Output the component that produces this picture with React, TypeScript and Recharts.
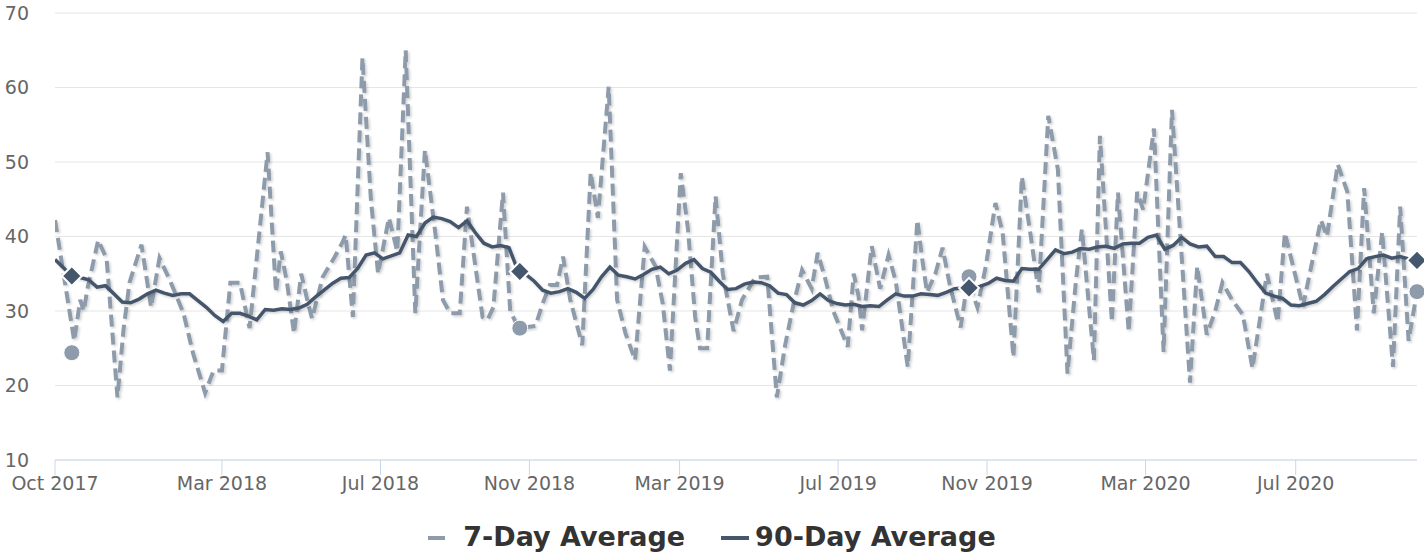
import React from 'react';
import {
  LineChart,
  Line,
  XAxis,
  YAxis,
  CartesianGrid,
  Legend,
  ReferenceDot,
} from 'recharts';

// weekly 90-day average, one value per week starting Oct 2017
const ninetyDay = [
  36.9, 35.8, 34.7, 34.5, 34.2, 33.2, 33.4, 32.3, 31.2, 31.1,
  31.6, 32.3, 32.8, 32.4, 32.1, 32.3, 32.3, 31.4, 30.5, 29.4,
  28.6, 29.7, 29.7, 29.3, 28.8, 30.2, 30.1, 30.3, 30.2, 30.4,
  30.9, 31.9, 32.8, 33.7, 34.4, 34.5, 35.7, 37.5, 37.8, 37.0,
  37.4, 37.8, 40.2, 40.0, 41.8, 42.6, 42.4, 42.0, 41.2, 42.1,
  40.5, 39.1, 38.6, 38.8, 38.5, 35.6, 34.9, 34.0, 32.8, 32.4,
  32.6, 33.0, 32.5, 31.7, 32.9, 34.6, 35.9, 34.8, 34.6, 34.3,
  34.9, 35.6, 35.9, 35.0, 35.5, 36.4, 36.9, 35.7, 35.2, 34.0,
  32.9, 33.0, 33.6, 33.9, 33.8, 33.4, 32.4, 32.2, 31.1, 30.8,
  31.4, 32.3, 31.4, 31.0, 30.8, 30.9, 30.6, 30.7, 30.6, 31.5,
  32.3, 32.0, 32.0, 32.3, 32.2, 32.1, 32.5, 33.0, 33.1, 33.1,
  33.3, 33.7, 34.4, 34.1, 34.0, 35.7, 35.6, 35.6, 36.9, 38.2,
  37.7, 37.9, 38.4, 38.3, 38.6, 38.7, 38.4, 39.0, 39.1, 39.1,
  39.9, 40.2, 38.3, 38.8, 39.9, 39.0, 38.6, 38.7, 37.3, 37.3,
  36.5, 36.5, 35.3, 33.8, 32.4, 32.0, 31.7, 30.8, 30.7, 31.0,
  31.3, 32.2, 33.3, 34.3, 35.3, 35.7, 37.0, 37.3, 37.5, 37.1,
  37.3, 37.0, 36.8,
];

// 7-day average turning points (day offset from start, value)
const sevenDayDays = [
  0, 16, 21, 24, 27, 36, 43, 52, 57, 62, 72, 80, 87, 96, 107, 115, 125, 132, 139, 146,
  154, 162, 177, 184, 188, 193, 199, 205, 210, 214, 223, 232, 239, 242, 248, 256, 263, 269, 278, 285,
  292, 300, 308, 317, 323, 329, 337, 343, 356, 360, 365, 373, 379, 386, 400, 406, 412, 418, 423, 429,
  439, 446, 452, 461, 468, 475, 483, 491, 500, 506, 512, 521, 527, 533, 537, 543, 550, 556, 565, 572,
  583, 593, 601, 608, 615, 622, 630, 635, 641, 648, 660, 665, 669, 672, 680, 687, 694, 700, 710, 718,
  722, 726, 733, 739, 745, 754, 760, 768, 775, 783, 789, 798, 805, 812, 819, 827, 835, 843, 850, 855,
  865, 870, 880, 885, 894, 901, 906, 915, 923, 930, 945, 951, 959, 966, 972, 980, 989, 997, 1009, 1018,
  1024, 1039, 1054, 1059, 1068, 1076, 1084, 1090, 1098, 1105, 1114, 1120, 1127, 1134,
];
const sevenDayValues = [
  42.2, 26.0, 31.5, 30.0, 33.0, 39.5, 37.0, 18.4, 27.4, 33.8, 38.9, 30.5, 37.1, 34.0, 29.7, 24.3, 19.0, 22.0, 22.0, 33.8,
  33.8, 27.7, 51.3, 32.5, 38.0, 34.0, 27.0, 35.0, 31.5, 29.0, 34.6, 37.0, 39.1, 40.2, 29.2, 64.0, 45.0, 35.0, 42.5, 38.0,
  65.0, 29.7, 51.6, 40.0, 31.5, 29.7, 29.7, 44.0, 29.2, 28.8, 30.5, 45.9, 30.0, 27.7, 28.0, 31.0, 33.5, 33.5, 37.3, 31.5,
  25.4, 48.6, 42.5, 60.1, 31.5, 27.0, 23.4, 38.6, 36.0, 31.0, 22.0, 48.5, 41.0, 29.2, 25.0, 25.0, 45.4, 35.0, 27.3, 31.5,
  34.5, 34.6, 18.4, 25.5, 31.0, 35.5, 33.0, 37.8, 34.5, 30.0, 25.2, 35.0, 32.0, 27.4, 38.7, 33.0, 37.5, 34.0, 22.5, 42.2,
  37.0, 32.5, 35.0, 38.5, 33.5, 27.8, 34.2, 30.5, 36.0, 44.5, 40.5, 23.8, 48.0, 40.5, 32.5, 56.2, 49.0, 21.6, 34.0, 41.0,
  23.4, 53.5, 28.5, 45.9, 27.2, 46.0, 43.6, 54.5, 24.5, 57.0, 20.4, 36.0, 26.8, 30.0, 33.8, 31.5, 29.5, 22.3, 35.0, 28.5,
  40.5, 30.6, 42.2, 40.0, 49.7, 46.0, 27.4, 46.5, 29.7, 40.6, 22.5, 44.0, 26.0, 32.6,
];

const tickDays = [0, 139, 271, 395, 520, 652, 776, 908, 1033];
const tickLabels = [
  'Oct 2017', 'Mar 2018', 'Jul 2018', 'Nov 2018', 'Mar 2019',
  'Jul 2019', 'Nov 2019', 'Mar 2020', 'Jul 2020',
];
const yTicks = [10, 20, 30, 40, 50, 60, 70];

// yearly comparison markers
const markerDays = [14, 387, 761, 1134];
const markerSeven = [24.4, 27.7, 34.6, 32.6];
const markerNinety = [34.7, 35.3, 33.1, 36.8];

const SEVEN_COLOR = '#8e9bab';
const NINETY_COLOR = '#45576c';

const ninetyData = ninetyDay.map((value, i) => ({ day: i * 7, value }));
const sevenData = sevenDayDays.map((day, i) => ({ day, value: sevenDayValues[i] }));

const Diamond = (props: any) => {
  const { cx, cy } = props;
  const s = 10;
  return (
    <path
      d={`M${cx},${cy - s}L${cx + s},${cy}L${cx},${cy + s}L${cx - s},${cy}Z`}
      fill={NINETY_COLOR}
      stroke="#ffffff"
      strokeWidth={2}
    />
  );
};

const renderLegend = () => (
  <div
    style={{
      display: 'flex',
      justifyContent: 'center',
      alignItems: 'center',
      height: 30,
      lineHeight: '30px',
      fontFamily: '"DejaVu Sans", sans-serif',
      fontWeight: 'bold',
      fontSize: 27,
      color: '#333333',
    }}
  >
    <svg width={17} height={30} style={{ marginRight: 18 }}>
      <line x1={0} x2={17} y1={16} y2={16} stroke={SEVEN_COLOR} strokeWidth={4} />
    </svg>
    <span>7-Day Average</span>
    <svg width={28} height={30} style={{ marginLeft: 36, marginRight: 6 }}>
      <line x1={0} x2={28} y1={16} y2={16} stroke={NINETY_COLOR} strokeWidth={4} />
    </svg>
    <span>90-Day Average</span>
  </div>
);

export default function App() {
  return (
    <div
      style={{
        position: 'absolute',
        left: 0,
        top: 0,
        width: 1424,
        height: 553,
        background: '#ffffff',
        fontFamily: '"DejaVu Sans", sans-serif',
      }}
    >
      <svg width={0} height={0} style={{ position: 'absolute' }}>
        <defs>
          <filter id="lineShadow" x="-5%" y="-5%" width="110%" height="110%">
            <feDropShadow dx="1.5" dy="1.5" stdDeviation="0.8" floodColor="#000000" floodOpacity="0.18" />
          </filter>
        </defs>
      </svg>
      <LineChart
        width={1424}
        height={553}
        margin={{ top: 13, right: 7, bottom: 1, left: 0 }}
      >
        <CartesianGrid vertical={false} stroke="#e6e6e6" />
        <XAxis
          type="number"
          dataKey="day"
          domain={[0, 1134]}
          ticks={tickDays}
          interval={0}
          tickFormatter={(d: number) => tickLabels[tickDays.indexOf(d)] ?? ''}
          height={62}
          stroke="#ccd6eb"
          tickSize={15}
          tickMargin={2}
          tick={{ fill: '#666666', fontSize: 19 }}
          allowDataOverflow
        />
        <YAxis
          type="number"
          domain={[10, 70]}
          ticks={yTicks}
          width={55}
          axisLine={false}
          tickLine={false}
          tickSize={0}
          tickMargin={26}
          tick={{ fill: '#666666', fontSize: 19 }}
          allowDataOverflow
        />
        <Legend
          verticalAlign="bottom"
          align="center"
          content={renderLegend}
          wrapperStyle={{ left: 0, width: 1424 }}
        />
        <Line
          data={sevenData}
          dataKey="value"
          name="7-Day Average"
          type="linear"
          stroke={SEVEN_COLOR}
          strokeWidth={4}
          strokeDasharray="12 6"
          dot={false}
          activeDot={false}
          filter="url(#lineShadow)"
          isAnimationActive={false}
        />
        <Line
          data={ninetyData}
          dataKey="value"
          name="90-Day Average"
          type="linear"
          stroke={NINETY_COLOR}
          strokeWidth={3.5}
          dot={false}
          activeDot={false}
          filter="url(#lineShadow)"
          isAnimationActive={false}
        />
        {markerDays.map((d, i) => (
          <ReferenceDot
            key={`c${i}`}
            x={d}
            y={markerSeven[i]}
            r={8}
            fill={SEVEN_COLOR}
            stroke="#ffffff"
            strokeWidth={1}
          />
        ))}
        {markerDays.map((d, i) => (
          <ReferenceDot
            key={`d${i}`}
            x={d}
            y={markerNinety[i]}
            r={8}
            shape={Diamond}
          />
        ))}
      </LineChart>
    </div>
  );
}
